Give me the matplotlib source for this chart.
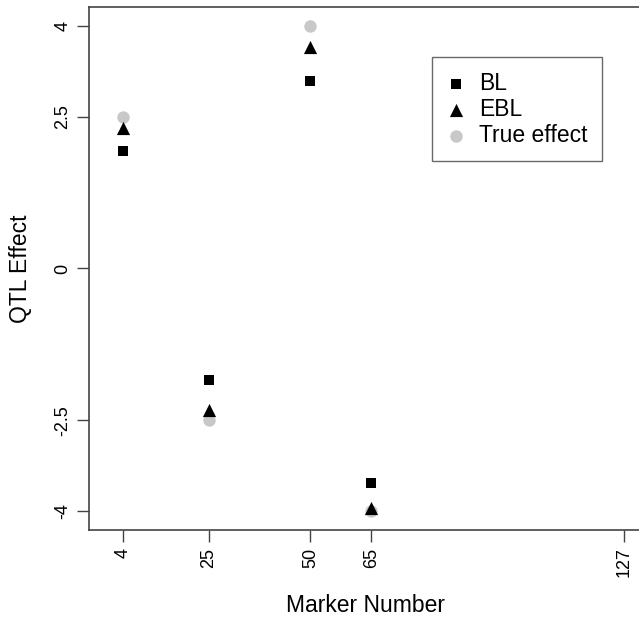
import matplotlib
matplotlib.use("Agg")
import matplotlib.pyplot as plt

plt.rcParams["font.family"] = ["Liberation Sans", "DejaVu Sans"]

markers = [4, 25, 50, 65]
bl = [1.94, -1.83, 3.09, -3.53]
ebl = [2.31, -2.33, 3.65, -3.95]
true_effect = [2.5, -2.5, 4.0, -4.0]

x_ticks = [4, 25, 50, 65, 127]
y_ticks = [-4, -2.5, 0, 2.5, 4]
y_ticklabels = ["-4", "-2.5", "0", "2.5", "4"]

fig = plt.figure(figsize=(6.39, 6.17), dpi=100)
ax = fig.add_axes([89 / 639, 87 / 617, 552 / 639, 523 / 617])

ax.scatter(markers, bl, marker="s", s=60, color="black", label="BL", zorder=3, linewidths=0)
ax.scatter(markers, ebl, marker="^", s=90, color="black", label="EBL", zorder=3, linewidths=0)
ax.scatter(markers, true_effect, marker="o", s=80, color="#c8c8c8", label="True effect", zorder=2, linewidths=0)

ax.set_xlim(-4.35, 131.2)
ax.set_ylim(-4.31, 4.31)
ax.set_xticks(x_ticks)
ax.set_xticklabels([str(v) for v in x_ticks], rotation=90, fontsize=13)
ax.set_yticks(y_ticks)
ax.set_yticklabels(y_ticklabels, rotation=90, va="center", fontsize=13)
ax.tick_params(length=8.6, width=1, color="#444444", pad=4)

for s in ax.spines.values():
    s.set_color("#444444")
    s.set_linewidth(1.2)

ax.set_xlabel("Marker Number", fontsize=16.5, labelpad=12)
ax.set_ylabel("QTL Effect", fontsize=16.5, labelpad=16)

leg = ax.legend(loc="upper left", bbox_to_anchor=(0.621, 0.904), borderaxespad=0,
                fancybox=False, edgecolor="#444444", fontsize=16.5, frameon=True,
                handlelength=0.8, handletextpad=0.6, labelspacing=0.12, borderpad=0.65,
                scatterpoints=1, markerscale=1.0)
leg.get_frame().set_linewidth(1.0)

fig.savefig("out.png", dpi=100)
